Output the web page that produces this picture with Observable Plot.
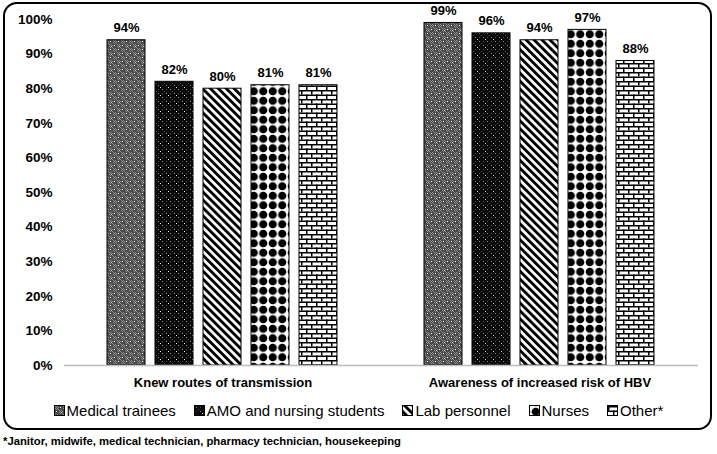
<!DOCTYPE html>
<html><head><meta charset="utf-8">
<script src="https://cdn.jsdelivr.net/npm/d3@7"></script>
<script src="https://cdn.jsdelivr.net/npm/@observablehq/plot@0.6"></script>
<style>
body{margin:0;background:#fff;font-family:"Liberation Sans",Arial,sans-serif;}
#wrap{position:relative;width:717px;height:454px;overflow:hidden;}
#frame{position:absolute;left:3px;top:2px;width:705px;height:424px;border:2.5px solid #000;border-radius:14px;}
#chart{position:absolute;left:0;top:0;}
#legend{position:absolute;left:0;top:401px;width:717px;display:flex;justify-content:center;gap:18px;font-size:15px;line-height:19px;color:#000;}
#legend .item{display:flex;align-items:center;gap:2px;white-space:nowrap;}
#legend svg{display:block;border:0.5px solid #000;}
#note{position:absolute;left:3px;top:435px;font-weight:bold;font-size:11.3px;color:#000;white-space:nowrap;}
</style></head>
<body>
<div id="wrap">
  <div id="frame"></div>
  <div id="chart"></div>
  <div id="legend"></div>
  <div id="note"></div>
</div>
<script>
const groups = ["Knew routes of transmission", "Awareness of increased risk of HBV"];
const categories = ["Medical trainees", "AMO and nursing students", "Lab personnel", "Nurses", "Other*"];
const knewRoutes = [94, 82, 80, 81, 81];
const awareness = [99, 96, 94, 97, 88];
const footnote = "*Janitor, midwife, medical technician, pharmacy technician, housekeeping";

const series = [knewRoutes, awareness];
const data = [];
groups.forEach((g, gi) => categories.forEach((c, ci) => data.push({group: g, cat: c, value: series[gi][ci]})));

const font = '"Liberation Sans", Arial, sans-serif';

const chart = Plot.plot({
  width: 717,
  height: 400,
  marginTop: 19,
  marginBottom: 35,
  marginLeft: 63,
  marginRight: 19,
  style: {fontFamily: font, fontSize: "13px", fontWeight: "bold", color: "#000", background: "transparent"},
  fx: {domain: groups, padding: 0, label: null},
  x: {domain: categories, axis: null, paddingInner: 0.2, paddingOuter: 0.87},
  y: {domain: [0, 100], label: null},
  marks: [
    Plot.axisY({ticks: d3.range(0, 101, 10), tickFormat: d => d + "%", tickSize: 0, tickPadding: 12, fontSize: 13.5, fontWeight: "bold", label: null}),
    Plot.axisFx({anchor: "bottom", tickSize: 0, tickPadding: 12, fontSize: 13, fontWeight: "bold", label: null}),
    ...categories.map((c, i) => Plot.barY(data.filter(d => d.cat === c), {
      fx: "group", x: "cat", y: "value", fill: `url(#pat${i})`, stroke: "#000", strokeWidth: 1
    })),
    Plot.ruleY([0], {stroke: "#bdbdbd", strokeWidth: 1.3}),
    Plot.text(data, {fx: "group", x: "cat", y: "value", text: d => d.value + "%", dy: -8, lineAnchor: "bottom", fontSize: 13, fontWeight: "bold"})
  ]
});

// pattern definitions
const defs = d3.select(chart).insert("defs", ":first-child");
// 0: Medical trainees - gray with light checker and white dots
{
  const p = defs.append("pattern").attr("id", "pat0").attr("patternUnits", "userSpaceOnUse").attr("width", 8).attr("height", 8);
  p.append("rect").attr("width", 8).attr("height", 8).attr("fill", "#4a4a4a");
  for (let y = 0; y < 8; y++) for (let x = 0; x < 8; x++) {
    if ((x + y) % 2 === 0 && (x < 4) === (y < 4)) p.append("rect").attr("x", x).attr("y", y).attr("width", 1).attr("height", 1).attr("fill", "#8c8c8c");
  }
  p.append("rect").attr("x", 5).attr("y", 1).attr("width", 1).attr("height", 1).attr("fill", "#fff");
  p.append("rect").attr("x", 1).attr("y", 5).attr("width", 1).attr("height", 1).attr("fill", "#fff");
  p.append("rect").attr("x", 6).attr("y", 6).attr("width", 1).attr("height", 1).attr("fill", "#ccc");
}
// 1: AMO - black with small gray/white dots
{
  const p = defs.append("pattern").attr("id", "pat1").attr("patternUnits", "userSpaceOnUse").attr("width", 8).attr("height", 8);
  p.append("rect").attr("width", 8).attr("height", 8).attr("fill", "#0a0a0a");
  [[1,1,"#8a8a8a"],[5,5,"#8a8a8a"],[5,1,"#444"],[1,5,"#444"],[3,3,"#555"],[7,7,"#dcdcdc"]].forEach(([x,y,c]) =>
    p.append("rect").attr("x", x).attr("y", y).attr("width", 1).attr("height", 1).attr("fill", c));
}
// 2: Lab personnel - diagonal stripes
{
  const p = defs.append("pattern").attr("id", "pat2").attr("patternUnits", "userSpaceOnUse").attr("width", 5.6).attr("height", 5.6).attr("patternTransform", "rotate(-45)");
  p.append("rect").attr("width", 5.6).attr("height", 5.6).attr("fill", "#fff");
  p.append("rect").attr("width", 2.9).attr("height", 5.6).attr("fill", "#000");
}
// 3: Nurses - large black dots
{
  const p = defs.append("pattern").attr("id", "pat3").attr("patternUnits", "userSpaceOnUse").attr("width", 9.5).attr("height", 9.5).attr("x", 1).attr("y", 1);
  p.append("rect").attr("width", 9.5).attr("height", 9.5).attr("fill", "#fff");
  p.append("circle").attr("cx", 4.75).attr("cy", 4.75).attr("r", 4.1).attr("fill", "#000");
}
// 4: Other - bricks
{
  const p = defs.append("pattern").attr("id", "pat4").attr("patternUnits", "userSpaceOnUse").attr("width", 10).attr("height", 9);
  p.append("rect").attr("width", 10).attr("height", 9).attr("fill", "#fff");
  p.append("rect").attr("x", 0).attr("y", 0).attr("width", 10).attr("height", 1.5).attr("fill", "#000");
  p.append("rect").attr("x", 0).attr("y", 4.5).attr("width", 10).attr("height", 1.5).attr("fill", "#000");
  p.append("rect").attr("x", 0).attr("y", 0).attr("width", 1.5).attr("height", 4.5).attr("fill", "#000");
  p.append("rect").attr("x", 5).attr("y", 4.5).attr("width", 1.5).attr("height", 4.5).attr("fill", "#000");
}

document.getElementById("chart").appendChild(chart);

// legend
const legend = d3.select("#legend");
categories.forEach((c, i) => {
  const item = legend.append("div").attr("class", "item");
  const s = item.append("svg").attr("width", 9).attr("height", 9);
  s.append("rect").attr("width", 9).attr("height", 9).attr("fill", `url(#pat${i})`);
  item.append("span").text(c);
});

document.getElementById("note").textContent = footnote;
</script>
</body></html>
